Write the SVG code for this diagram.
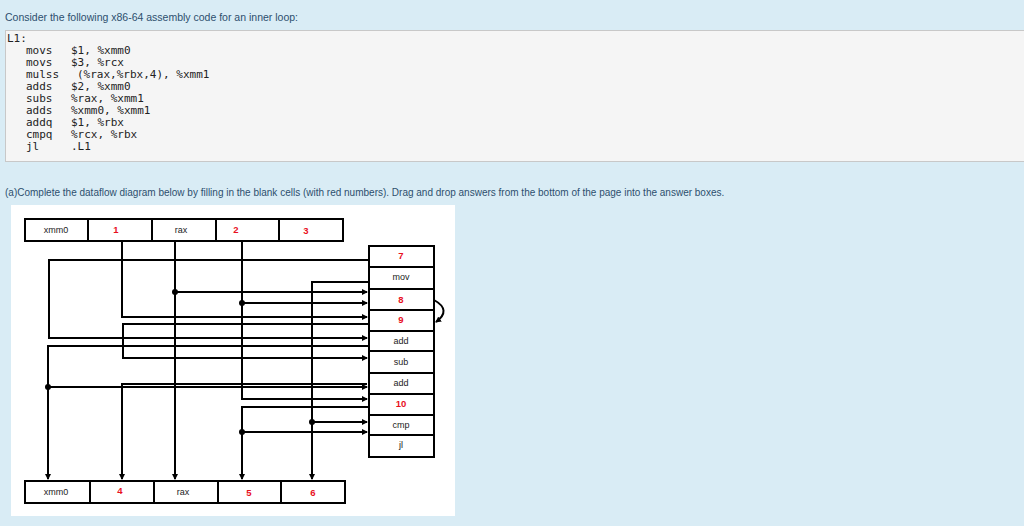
<svg xmlns="http://www.w3.org/2000/svg" width="1024" height="526" viewBox="0 0 1024 526">
<defs>
<style>
.t{font-family:"Liberation Sans",Arial,sans-serif;font-size:10.5px;fill:#2d4f6e}
.c{font-family:"DejaVu Sans Mono",monospace;font-size:11px;fill:#222}
.cell{fill:#fff;stroke:#000;stroke-width:2}
.lb{font-family:"Liberation Sans",Arial,sans-serif;font-size:9px;fill:#222;text-anchor:middle}
.rd{font-family:"Liberation Sans",Arial,sans-serif;font-size:9.5px;font-weight:bold;fill:#e8101e;text-anchor:middle}
.w{fill:none;stroke:#000;stroke-width:2}
</style>
<marker id="a" markerWidth="6" markerHeight="6" refX="5" refY="3" orient="auto" markerUnits="userSpaceOnUse"><path d="M0,0 L6,3 L0,6z" fill="#000"/></marker>
</defs>
<rect width="1024" height="526" fill="#d9ecf5"/>
<text class="t" x="5" y="21">Consider the following x86-64 assembly code for an inner loop:</text>
<rect x="5.5" y="30.5" width="1030" height="131" fill="#f5f5f5" stroke="#c8c8c8"/>
<text class="c" x="7" y="42">L1:</text>
<g class="c">
<text x="26" y="54">movs</text><text x="71" y="54">$1, %xmm0</text>
<text x="26" y="66">movs</text><text x="71" y="66">$3, %rcx</text>
<text x="26" y="78">mulss</text><text x="77" y="78">(%rax,%rbx,4), %xmm1</text>
<text x="26" y="90">adds</text><text x="71" y="90">$2, %xmm0</text>
<text x="26" y="102">subs</text><text x="71" y="102">%rax, %xmm1</text>
<text x="26" y="114">adds</text><text x="71" y="114">%xmm0, %xmm1</text>
<text x="26" y="126">addq</text><text x="71" y="126">$1, %rbx</text>
<text x="26" y="138">cmpq</text><text x="71" y="138">%rcx, %rbx</text>
<text x="26" y="150">jl</text><text x="71" y="150">.L1</text>
</g>
<text class="t" x="5" y="196" style="font-size:10px">(a)Complete the dataflow diagram below by filling in the blank cells (with red numbers). Drag and drop answers from the bottom of the page into the answer boxes.</text>
<rect x="11" y="205" width="444" height="311" fill="#fff"/>
<g id="connectors">
<polyline class="w" points="122,241 122,317 367,317" marker-end="url(#a)"/>
<polyline class="w" points="175,241 175,479" marker-end="url(#a)"/>
<polyline class="w" points="175,292 367,292" marker-end="url(#a)"/>
<circle cx="175" cy="292" r="3"/>
<polyline class="w" points="242,241 242,399 367,399" marker-end="url(#a)"/>
<polyline class="w" points="242,303 367,303" marker-end="url(#a)"/>
<circle cx="242" cy="303" r="3"/>
<polyline class="w" points="369,260 49,260 49,338 367,338" marker-end="url(#a)"/>
<polyline class="w" points="369,282 312,282 312,479" marker-end="url(#a)"/>
<polyline class="w" points="312,422 367,422" marker-end="url(#a)"/>
<circle cx="312" cy="422" r="3"/>
<polyline class="w" points="369,324 123,324 123,358 367,358" marker-end="url(#a)"/>
<polyline class="w" points="369,346 48,346 48,479" marker-end="url(#a)"/>
<polyline class="w" points="48,387 367,387" marker-end="url(#a)"/>
<circle cx="48" cy="387" r="3"/>
<polyline class="w" points="367,384 122,384 122,479" marker-end="url(#a)"/>
<polyline class="w" points="369,407 242,407 242,479" marker-end="url(#a)"/>
<polyline class="w" points="242,432 367,432" marker-end="url(#a)"/>
<circle cx="242" cy="432" r="3"/>
<path class="w" d="M434,300 Q452,310 436,322" marker-end="url(#a)"/>
</g>
<g id="top-registers">
<rect class="cell" x="25" y="219" width="63" height="22"/><text class="lb" x="56" y="233">xmm0</text>
<rect class="cell" x="88" y="219" width="64" height="22"/><text class="rd" x="116" y="233">1</text>
<rect class="cell" x="152" y="219" width="64" height="22"/><text class="lb" x="181" y="233">rax</text>
<rect class="cell" x="216" y="219" width="63" height="22"/><text class="rd" x="236" y="233">2</text>
<rect class="cell" x="279" y="219" width="64" height="22"/><text class="rd" x="306" y="234">3</text>
</g>
<g id="ops">
<rect class="cell" x="369" y="246" width="65" height="21"/><text class="rd" x="401" y="259">7</text>
<rect class="cell" x="369" y="267" width="65" height="22"/><text class="lb" x="401" y="280">mov</text>
<rect class="cell" x="369" y="289" width="65" height="21"/><text class="rd" x="401" y="303">8</text>
<rect class="cell" x="369" y="310" width="65" height="21"/><text class="rd" x="401" y="323">9</text>
<rect class="cell" x="369" y="331" width="65" height="20"/><text class="lb" x="401" y="344">add</text>
<rect class="cell" x="369" y="351" width="65" height="22"/><text class="lb" x="401" y="365">sub</text>
<rect class="cell" x="369" y="373" width="65" height="21"/><text class="lb" x="401" y="386">add</text>
<rect class="cell" x="369" y="394" width="65" height="21"/><text class="rd" x="401" y="407">10</text>
<rect class="cell" x="369" y="415" width="65" height="20"/><text class="lb" x="401" y="428">cmp</text>
<rect class="cell" x="369" y="435" width="65" height="22"/><text class="lb" x="401" y="448">jl</text>
</g>
<g id="bottom-registers">
<rect class="cell" x="25" y="481" width="65" height="22"/><text class="lb" x="56" y="495">xmm0</text>
<rect class="cell" x="90" y="481" width="64" height="22"/><text class="rd" x="120" y="494">4</text>
<rect class="cell" x="154" y="481" width="64" height="22"/><text class="lb" x="183" y="495">rax</text>
<rect class="cell" x="218" y="481" width="63" height="22"/><text class="rd" x="249" y="496">5</text>
<rect class="cell" x="281" y="481" width="64" height="22"/><text class="rd" x="313" y="496">6</text>
</g>
</svg>
